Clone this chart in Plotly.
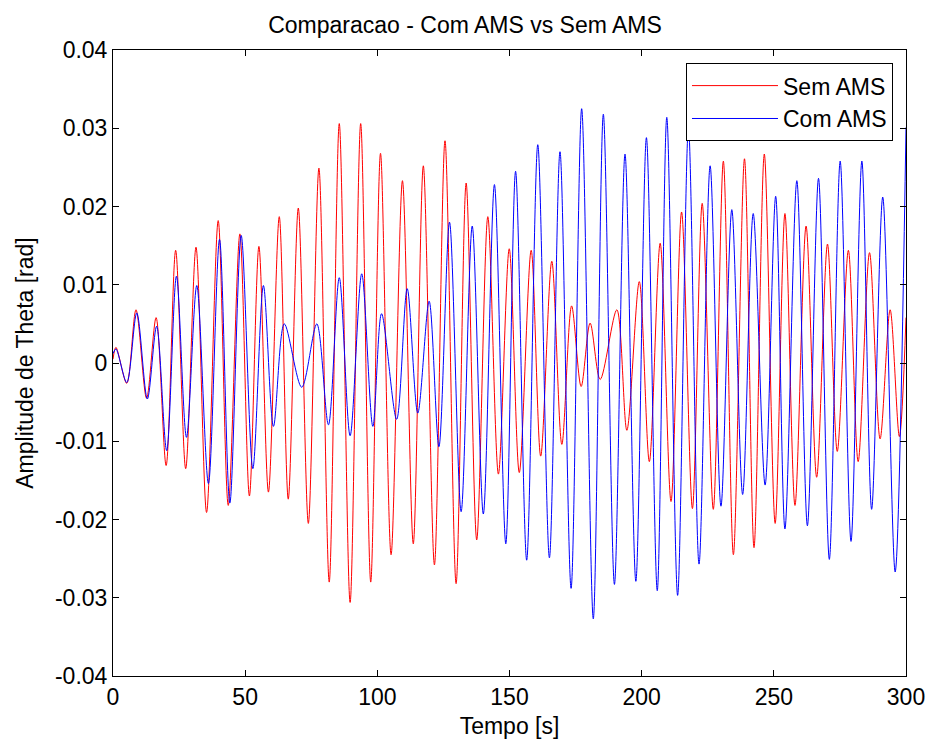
import plotly.graph_objects as go

# Peak / trough samples (time [s], amplitude [rad])
sem_t = [0, 1.1, 5.2, 8.7, 12.7, 16.3, 20.1, 23.7, 27.5, 31.4, 35.4, 39.8, 43.6, 48.0, 51.6, 55.2, 58.8,
         62.9, 66.3, 70.1, 73.9, 77.9, 81.8, 85.6, 89.7, 93.7, 97.5, 101.2, 105.2, 109.5, 113.6, 117.4,
         121.6, 125.6, 129.8, 133.6, 137.6, 141.8, 145.8, 149.9, 153.7, 158.2, 161.8, 166.0, 169.8, 173.5,
         177.1, 180.5, 184.3, 190.6, 194.4, 199.1, 202.9, 207.0, 211.1, 215.1, 219.2, 222.9, 227.1, 230.9,
         234.7, 238.9, 242.5, 246.4, 250.5, 254.2, 258.0, 262.2, 266.2, 270.3, 274.0, 278.2, 281.9, 286.2,
         290.2, 294.0, 297.5, 300]
sem_v = [0.0005, 0.002, -0.0026, 0.0068, -0.0045, 0.0058, -0.0131, 0.0144, -0.0135, 0.0148, -0.0191,
         0.0182, -0.0182, 0.0165, -0.0170, 0.0149, -0.0165, 0.0187, -0.0174, 0.0198, -0.0205, 0.0249,
         -0.0280, 0.0306, -0.0306, 0.0306, -0.0280, 0.0268, -0.0245, 0.0233, -0.0231, 0.0252, -0.0258,
         0.0284, -0.0282, 0.0230, -0.0226, 0.0187, -0.0142, 0.0146, -0.0140, 0.0144, -0.0119, 0.0130,
         -0.0104, 0.0073, -0.0030, 0.0051, -0.0021, 0.0068, -0.0086, 0.0104, -0.0126, 0.0153, -0.0177,
         0.0193, -0.0186, 0.0204, -0.0187, 0.0258, -0.0245, 0.0261, -0.0236, 0.0267, -0.0205, 0.0191,
         -0.0182, 0.0175, -0.0146, 0.0152, -0.0113, 0.0144, -0.0126, 0.0141, -0.0097, 0.0068, -0.0094,
         0.0058]

com_t = [0, 1.1, 5.2, 9.0, 13.0, 16.5, 20.3, 24.0, 27.8, 31.7, 36.1, 40.3, 44.2, 48.5, 52.9, 56.9, 60.7,
         64.8, 71.4, 77.1, 81.5, 85.6, 89.7, 94.1, 98.3, 101.6, 107.3, 111.3, 115.3, 119.6, 123.3, 127.3,
         131.7, 135.9, 140.1, 144.3, 148.6, 152.3, 156.5, 160.7, 165.1, 169.1, 173.3, 177.3, 181.7, 185.5,
         189.7, 193.7, 197.8, 201.8, 205.9, 209.5, 213.6, 217.7, 221.7, 225.9, 230.0, 234.1, 238.2, 242.2,
         246.7, 250.7, 254.2, 258.7, 262.7, 266.9, 271.0, 275.1, 279.2, 283.3, 287.0, 291.2, 295.9, 300]
com_v = [0.0012, 0.0018, -0.0025, 0.0064, -0.0046, 0.0047, -0.0112, 0.0111, -0.0095, 0.0099, -0.0154,
         0.0158, -0.0179, 0.0163, -0.0135, 0.0099, -0.0081, 0.0050, -0.0031, 0.0050, -0.0079, 0.0109,
         -0.0093, 0.0114, -0.0081, 0.0063, -0.0072, 0.0095, -0.0064, 0.0079, -0.0107, 0.0180, -0.0190,
         0.0175, -0.0193, 0.0228, -0.0231, 0.0245, -0.0252, 0.0279, -0.0249, 0.0270, -0.0288, 0.0325,
         -0.0327, 0.0318, -0.0283, 0.0267, -0.0279, 0.0288, -0.0291, 0.0314, -0.0297, 0.0300, -0.0257,
         0.0252, -0.0183, 0.0196, -0.0168, 0.0191, -0.0156, 0.0213, -0.0212, 0.0233, -0.0208, 0.0236,
         -0.0251, 0.0258, -0.0228, 0.0258, -0.0187, 0.0212, -0.0267, 0.0301]

x_ticks = [0, 50, 100, 150, 200, 250, 300]
x_labels = ["0", "50", "100", "150", "200", "250", "300"]
y_ticks = [-0.04, -0.03, -0.02, -0.01, 0, 0.01, 0.02, 0.03, 0.04]
y_labels = ["-0.04", "-0.03", "-0.02", "-0.01", "0", "0.01", "0.02", "0.03", "0.04"]

FONT = "Arial, Liberation Sans, sans-serif"
FS = 23

fig = go.Figure()
fig.add_trace(go.Scatter(x=sem_t, y=sem_v, mode="lines", name="Sem AMS",
                         line=dict(color="#ff0000", width=1, shape="spline", smoothing=0.9)))
fig.add_trace(go.Scatter(x=com_t, y=com_v, mode="lines", name="Com AMS",
                         line=dict(color="#0000ff", width=1, shape="spline", smoothing=0.9)))

axis_common = dict(showline=True, linecolor="black", linewidth=1, mirror="ticks", ticks="inside",
                   ticklen=6, tickcolor="black", showgrid=False, zeroline=False, automargin=False,
                   tickfont=dict(family=FONT, size=FS, color="black"))

fig.update_layout(
    width=930, height=743,
    margin=dict(l=113, r=24, t=50, b=67),
    paper_bgcolor="white", plot_bgcolor="white",
    title=dict(text="Comparacao - Com AMS vs Sem AMS", x=0.5, xanchor="center", y=0.967, yanchor="middle",
               font=dict(family=FONT, size=FS, color="black")),
    xaxis=dict(range=[0, 300], tickvals=x_ticks, ticktext=x_labels,
               title=dict(text="Tempo [s]", font=dict(family=FONT, size=FS, color="black"), standoff=9),
               **axis_common),
    yaxis=dict(range=[-0.04, 0.04], tickvals=y_ticks, ticktext=y_labels,
               title=dict(text="Amplitude de Theta [rad]", font=dict(family=FONT, size=FS, color="black"), standoff=14),
               **axis_common),
    legend=dict(x=0.9836, y=0.979, xanchor="right", yanchor="top", bgcolor="white",
                bordercolor="black", borderwidth=1, itemwidth=86,
                font=dict(family=FONT, size=FS, color="black"), tracegroupgap=0),
    showlegend=True,
)

fig.write_html("out.html")
